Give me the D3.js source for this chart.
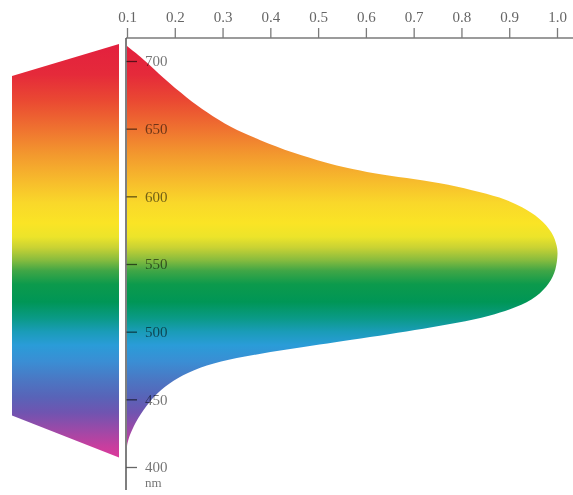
<!DOCTYPE html>
<html><head><meta charset="utf-8">
<script src="https://cdn.jsdelivr.net/npm/d3@7"></script>
<style>body{margin:0;background:#fff}svg{display:block}</style>
</head><body>
<svg id="c" width="573" height="495"></svg>
<script>
// Relative luminous efficiency (horizontal) against wavelength in nm (vertical)
const wavelengths = [415.5, 420, 430, 442, 455, 464, 471.7, 478.3, 482.8, 486.8, 490.5, 493.8, 498.3, 502, 506.4, 511.6, 518, 525.5, 536, 545.5, 558, 563, 573, 584, 592, 599.5, 604.5, 610, 613.5, 617, 621, 624.5, 632, 641.5, 651, 662, 672.5, 687.5, 700.5, 711];
const efficiency  = [0.100, 0.102, 0.113, 0.133, 0.163, 0.196, 0.238, 0.295, 0.364, 0.435, 0.504, 0.567, 0.650, 0.720, 0.791, 0.860, 0.916, 0.958, 0.985, 0.998, 1.002, 1.000, 0.992, 0.964, 0.929, 0.881, 0.824, 0.755, 0.686, 0.615, 0.560, 0.519, 0.447, 0.378, 0.316, 0.267, 0.226, 0.175, 0.138, 0.100];
const xTicks = [0.1, 0.2, 0.3, 0.4, 0.5, 0.6, 0.7, 0.8, 0.9, 1.0];
const yTicks = [400, 450, 500, 550, 600, 650, 700];
const yUnit = "nm";
// spectrum colour stops (wavelength -> colour)
const stopNm = [712, 690, 670, 650, 630, 610, 595, 580, 570, 562, 553, 545, 535, 522, 510, 500, 490, 478, 465, 452, 440, 428, 415, 405];
const stopColors = ["#e3203e", "#e52a3a", "#ea4a32", "#ef7230", "#f39a2e", "#f7be2c", "#f9d82a", "#fae425", "#ece42a", "#c8d234", "#88bc3e", "#40a646", "#0c9a4c", "#009656", "#0a9a86", "#1a9cb8", "#2a9cd8", "#3a8ed4", "#4a78c4", "#5864b8", "#7054b0", "#9a4aa8", "#c83e9e", "#e0389a"];
// left spectrum strip: wavelength at its [left, right] edges
const stripTopNm = [689, 712.5];
const stripBottomNm = [438, 407];

const svg = d3.select("#c");
const x = d3.scaleLinear().domain([0.1, 1.0]).range([127, 557]);
const y = d3.scaleLinear().domain([400, 700]).range([467, 61]);

const defs = svg.append("defs");
const y0 = y(stopNm[0]), y1 = y(stopNm[stopNm.length - 1]);
const grad = defs.append("linearGradient").attr("id", "spec")
  .attr("gradientUnits", "userSpaceOnUse")
  .attr("x1", 0).attr("x2", 0).attr("y1", y0).attr("y2", y1);
stopNm.forEach((nm, i) => {
  grad.append("stop").attr("offset", (y(nm) - y0) / (y1 - y0)).attr("stop-color", stopColors[i]);
});

// left spectrum strip
const stripL = 12, stripR = 119;
svg.append("path")
  .attr("d", `M${stripL},${y(stripTopNm[0])}L${stripR},${y(stripTopNm[1])}L${stripR},${y(stripBottomNm[1])}L${stripL},${y(stripBottomNm[0])}Z`)
  .attr("fill", "url(#spec)");

// luminosity area
const data = wavelengths.map((nm, i) => ({nm, v: efficiency[i]}));
const area = d3.area()
  .y(d => y(d.nm))
  .x0(x(0.1))
  .x1(d => x(d.v))
  .curve(d3.curveBasis);
svg.append("path").datum(data).attr("d", area).attr("fill", "url(#spec)");

// white separator between strip and axis
svg.append("rect").attr("x", stripR).attr("y", 30).attr("width", 6.5).attr("height", 465).attr("fill", "#fff");

const serif = "'Liberation Serif','DejaVu Serif',serif";
// top axis
const gx = svg.append("g").attr("transform", "translate(0,38)")
  .call(d3.axisTop(x).tickValues(xTicks).tickFormat(d3.format(".1f")).tickSize(10).tickPadding(6).tickSizeOuter(0));
gx.select(".domain").remove();
gx.append("line").attr("x1", 126).attr("x2", 573).attr("y1", 0).attr("y2", 0)
  .attr("stroke", "#7a7a7a").attr("stroke-width", 1.5);
gx.selectAll(".tick line").attr("stroke", "#7a7a7a").attr("stroke-width", 1.3);
gx.selectAll(".tick text").attr("fill", "#666")
  .style("font-family", serif).style("font-size", "15px");

// left axis
const gy = svg.append("g").attr("transform", "translate(126,0)")
  .call(d3.axisRight(y).tickValues(yTicks).tickSize(11).tickPadding(8).tickSizeOuter(0));
gy.select(".domain").remove();
gy.append("line").attr("x1", 0).attr("x2", 0).attr("y1", 38).attr("y2", 490)
  .attr("stroke", "#555").attr("stroke-width", 1.5);
gy.selectAll(".tick line").attr("stroke", "#666").attr("stroke-width", 1.3)
  .style("mix-blend-mode", "multiply");
gy.selectAll(".tick text").attr("fill", "#777").style("mix-blend-mode", "multiply")
  .style("font-family", serif).style("font-size", "15px");
gy.append("text").attr("x", 19).attr("y", 487).text(yUnit)
  .attr("fill", "#777").attr("text-anchor", "start")
  .style("font-family", serif).style("font-size", "13px");
</script>
</body></html>
